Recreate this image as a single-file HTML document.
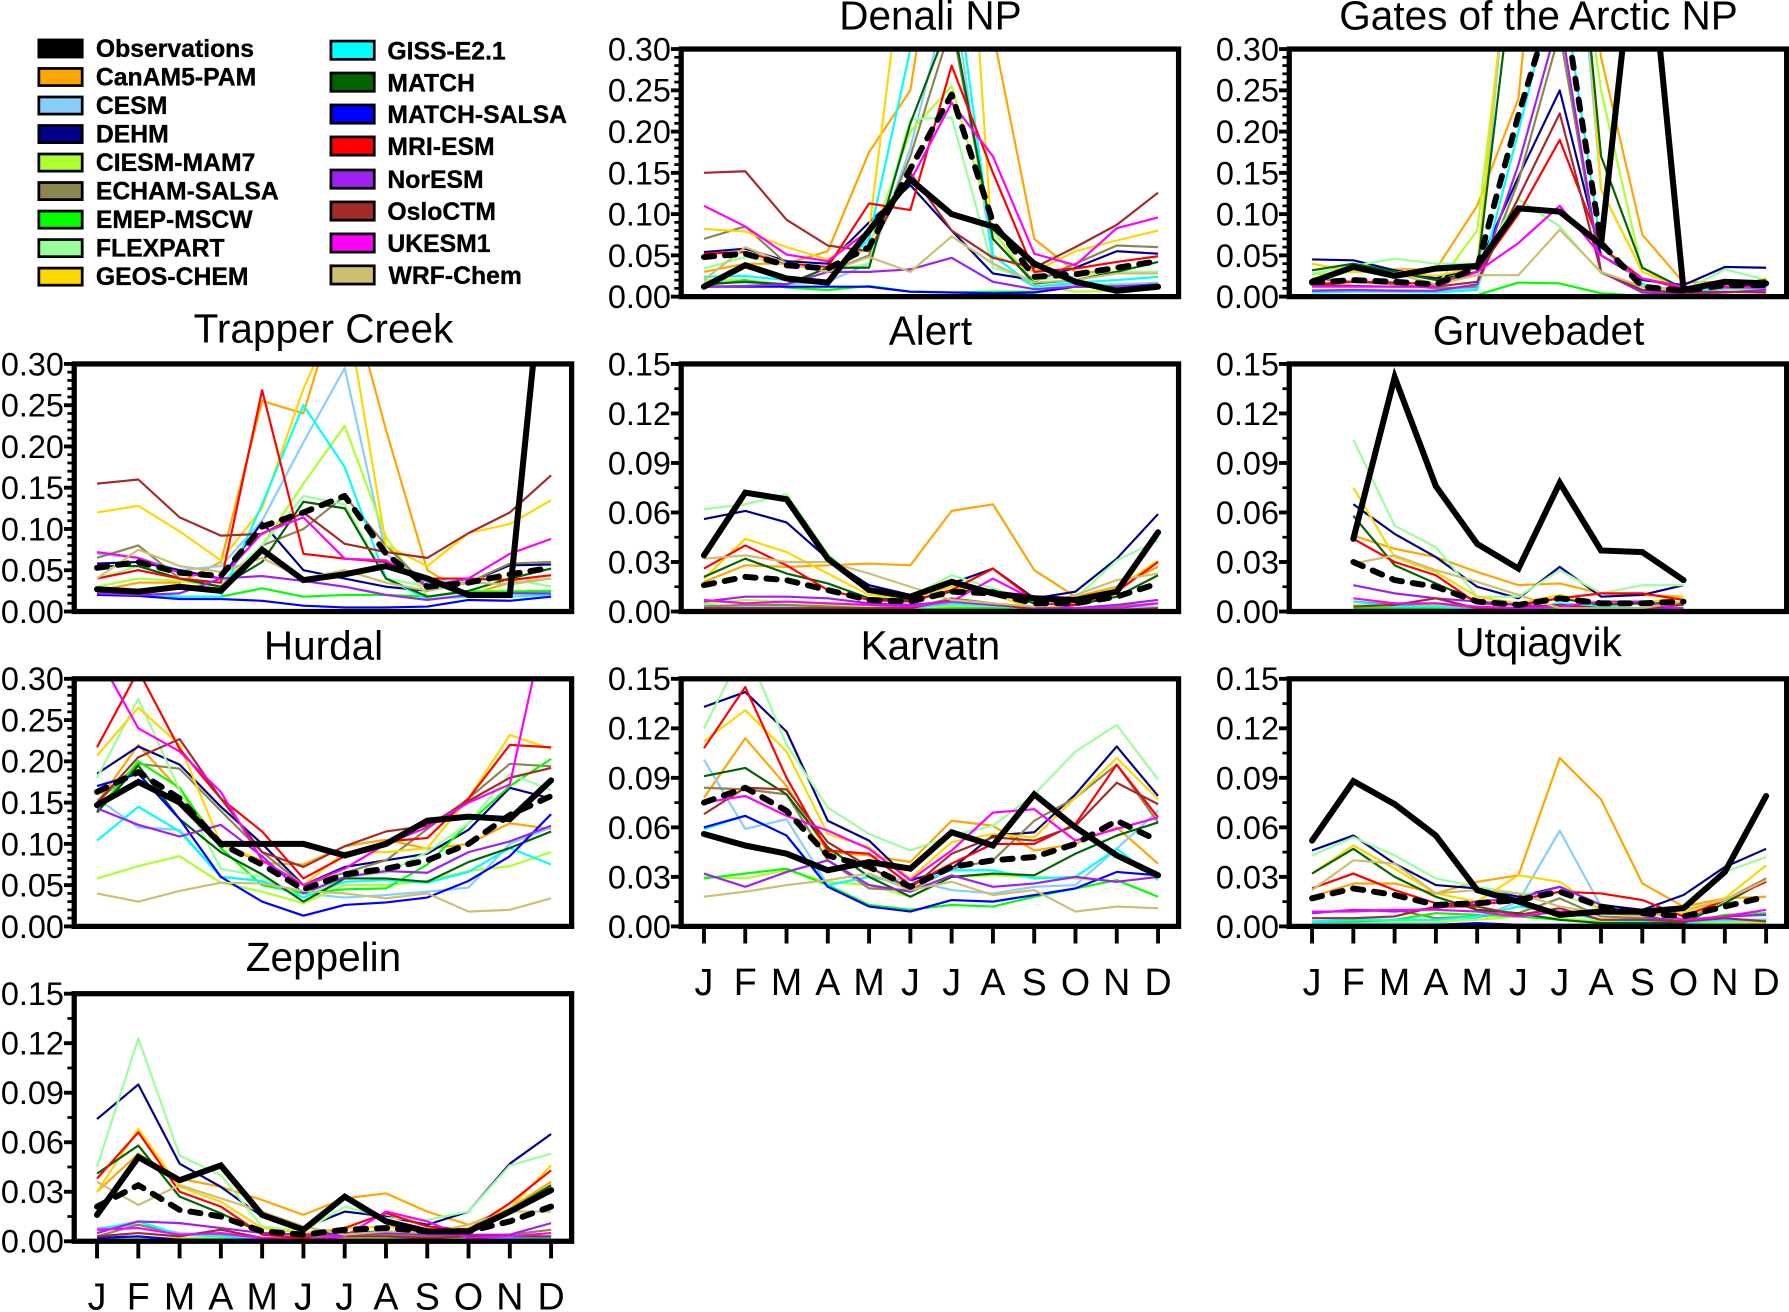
<!DOCTYPE html>
<html lang="en">
<head>
<meta charset="utf-8">
<title>Monthly concentration panels</title>
<style>
html,body{margin:0;padding:0;background:#fff;}
svg{display:block;font-family:"Liberation Sans",sans-serif;}
.title{font-size:35.5px;text-anchor:middle;fill:#000;}
.tick-label{font-size:28.4px;text-anchor:end;fill:#000;}
.month-label{font-size:33px;text-anchor:middle;fill:#000;}
.legend-label{font-size:21.7px;font-weight:bold;fill:#000;stroke:#000;stroke-width:.3;}
.swatch{stroke:#000;stroke-width:2.4;}
.series{fill:none;stroke-width:1.9;stroke-linejoin:round;}
.s0{stroke:#000;stroke-width:5.3;stroke-linecap:round;stroke-linejoin:miter;}
.s1{stroke:#FFA500;}.s2{stroke:#87CEFF;}.s3{stroke:#00008B;}.s4{stroke:#ADFF2F;}
.s5{stroke:#8B864E;}.s6{stroke:#00FF00;}.s7{stroke:#9AFF9A;}.s8{stroke:#FFD700;}
.s9{stroke:#00FFFF;}.s10{stroke:#006400;}.s11{stroke:#0000FF;}.s12{stroke:#FF0000;}
.s13{stroke:#A020F0;}.s14{stroke:#A52A2A;}.s15{stroke:#FF00FF;}.s16{stroke:#CDBE70;}
.s17{stroke:#000;stroke-width:5.2;stroke-dasharray:9 9.5;stroke-linecap:round;}
.box{fill:none;stroke:#000;stroke-width:4.6;}
.major{stroke:#000;stroke-width:3.4;}
.minor{stroke:#000;stroke-width:2.4;}
</style>
</head>
<body>
<svg id="chart" xmlns="http://www.w3.org/2000/svg" width="1789" height="1312" viewBox="0 0 1568 1150">
<g>
<g><rect class="swatch" x="34" y="35" width="38" height="15" fill="#000"/><text class="legend-label" x="84" y="50">Observations</text></g>
<g><rect class="swatch" x="34" y="60" width="38" height="15" fill="#FFA500"/><text class="legend-label" x="84" y="75">CanAM5-PAM</text></g>
<g><rect class="swatch" x="34" y="85" width="38" height="15" fill="#87CEFF"/><text class="legend-label" x="84" y="100">CESM</text></g>
<g><rect class="swatch" x="34" y="110" width="38" height="15" fill="#00008B"/><text class="legend-label" x="84" y="125">DEHM</text></g>
<g><rect class="swatch" x="34" y="135" width="38" height="15" fill="#ADFF2F"/><text class="legend-label" x="84" y="150">CIESM-MAM7</text></g>
<g><rect class="swatch" x="34" y="160" width="38" height="15" fill="#8B864E"/><text class="legend-label" x="84" y="175">ECHAM-SALSA</text></g>
<g><rect class="swatch" x="34" y="185" width="38" height="15" fill="#00FF00"/><text class="legend-label" x="84" y="200">EMEP-MSCW</text></g>
<g><rect class="swatch" x="34" y="210" width="38" height="15" fill="#9AFF9A"/><text class="legend-label" x="84" y="225">FLEXPART</text></g>
<g><rect class="swatch" x="34" y="235" width="38" height="15" fill="#FFD700"/><text class="legend-label" x="84" y="250">GEOS-CHEM</text></g>
<g><rect class="swatch" x="290" y="36" width="38" height="16" fill="#00FFFF"/><text class="legend-label" x="339.5" y="52">GISS-E2.1</text></g>
<g><rect class="swatch" x="290" y="64" width="38" height="16" fill="#006400"/><text class="legend-label" x="339.5" y="80">MATCH</text></g>
<g><rect class="swatch" x="290" y="92" width="38" height="16" fill="#0000FF"/><text class="legend-label" x="339.5" y="108">MATCH-SALSA</text></g>
<g><rect class="swatch" x="290" y="120" width="38" height="16" fill="#FF0000"/><text class="legend-label" x="339.5" y="136">MRI-ESM</text></g>
<g><rect class="swatch" x="290" y="149" width="38" height="16" fill="#A020F0"/><text class="legend-label" x="339.5" y="165">NorESM</text></g>
<g><rect class="swatch" x="290" y="177" width="38" height="16" fill="#A52A2A"/><text class="legend-label" x="339.5" y="193">OsloCTM</text></g>
<g><rect class="swatch" x="290" y="205" width="38" height="16" fill="#FF00FF"/><text class="legend-label" x="339.5" y="221">UKESM1</text></g>
<g><rect class="swatch" x="290" y="233" width="38" height="16" fill="#CDBE70"/><text class="legend-label" x="340.5" y="249">WRF-Chem</text></g>
</g>
</svg>
<script>
const months = ["J","F","M","A","M","J","J","A","S","O","N","D"];
const ticksHigh = [0, 0.05, 0.10, 0.15, 0.20, 0.25, 0.30];
const ticksLow = [0, 0.03, 0.06, 0.09, 0.12, 0.15];
const minorHigh = [0.01,0.02,0.03,0.04,0.06,0.07,0.08,0.09,0.11,0.12,0.13,0.14,0.16,0.17,0.18,0.19,0.21,0.22,0.23,0.24,0.26,0.27,0.28,0.29];
const minorLow = [0.015,0.045,0.075,0.105,0.135];
/* Row order: Observations, CanAM5-PAM, CESM, DEHM, CIESM-MAM7, ECHAM-SALSA, EMEP-MSCW, FLEXPART,
   GEOS-CHEM, GISS-E2.1, MATCH, MATCH-SALSA, MRI-ESM, NorESM, OsloCTM, UKESM1, WRF-Chem, Ensemble mean */
const denaliValues = [
[.012,.038,.022,.017,.08,.142,.1,.085,.04,.018,.007,.012],
[.03,.04,.04,.055,.175,.25,.57,.32,.07,.03,.03,.03],
[.018,.017,.015,.018,.04,.18,.38,.04,.012,.015,.015,.017],
[.054,.058,.043,.04,.09,.135,.08,.028,.02,.035,.055,.052],
[.02,.02,.015,.03,.06,.2,.255,.08,.015,.006,.007,.01],
[.07,.085,.04,.03,.05,.17,.33,.07,.018,.04,.062,.06],
[.013,.02,.011,.008,.013,.006,.005,.006,.006,.012,.013,.013],
[.034,.048,.04,.03,.04,.215,.217,.035,.02,.025,.03,.03],
[.082,.079,.06,.045,.08,.48,.8,.05,.03,.055,.068,.08],
[.024,.025,.02,.018,.07,.3,.42,.05,.012,.017,.02,.024],
[.015,.018,.015,.035,.035,.21,.34,.07,.016,.02,.03,.042],
[.012,.012,.012,.012,.012,.006,.005,.004,.005,.012,.012,.015],
[.052,.054,.04,.036,.113,.105,.28,.15,.03,.034,.042,.049],
[.012,.013,.015,.03,.03,.033,.047,.018,.009,.012,.012,.015],
[.15,.152,.093,.062,.055,.15,.08,.047,.035,.06,.087,.126],
[.11,.085,.051,.043,.08,.14,.235,.17,.052,.038,.083,.096],
[.02,.06,.04,.03,.048,.03,.073,.04,.017,.02,.028,.028],
[.048,.052,.038,.034,.06,.155,.245,.09,.024,.027,.035,.043]];
const gatesValues = [
[.018,.036,.025,.034,.037,.107,.103,.063,.52,.008,.018,.016],
[.04,.03,.033,.033,.11,.24,.75,.29,.075,.017,.018,.018],
[.008,.008,.008,.007,.01,.55,.7,.13,.03,.01,.012,.012],
[.045,.044,.032,.022,.035,.145,.25,.05,.02,.014,.036,.035],
[.027,.03,.03,.012,.08,.5,.6,.25,.03,.01,.01,.008],
[.022,.018,.015,.01,.012,.14,.32,.03,.008,.005,.01,.012],
[.002,.002,.002,.002,.002,.017,.016,.004,.001,.001,.001,.001],
[.028,.037,.046,.04,.04,.118,.085,.028,.012,.007,.033,.02],
[.04,.03,.03,.025,.035,.55,.8,.13,.03,.01,.01,.022],
[.005,.006,.006,.005,.008,.2,.4,.06,.015,.006,.01,.01],
[.032,.04,.03,.02,.03,.45,.7,.17,.035,.01,.015,.02],
[.002,.002,.002,.002,.002,.001,.001,.001,.001,.001,.001,.001],
[.015,.018,.017,.015,.03,.1,.19,.06,.022,.01,.012,.012],
[.007,.008,.007,.007,.015,.16,.34,.03,.005,.003,.005,.008],
[.015,.013,.012,.012,.018,.12,.222,.03,.008,.005,.006,.005],
[.012,.012,.012,.012,.03,.065,.11,.05,.022,.012,.011,.011],
[.02,.035,.028,.015,.026,.026,.081,.03,.012,.008,.016,.017],
[.017,.02,.018,.015,.035,.22,.385,.065,.012,.007,.014,.014]];
const trapperValues = [
[.027,.024,.03,.025,.075,.038,.045,.055,.04,.02,.02,.517],
[.025,.035,.035,.06,.255,.24,.405,.22,.05,.02,.035,.04],
[.07,.065,.05,.055,.11,.205,.295,.07,.035,.038,.04,.03],
[.058,.06,.05,.04,.108,.05,.04,.03,.025,.035,.056,.057],
[.03,.04,.037,.03,.08,.155,.225,.09,.018,.025,.025,.025],
[.065,.08,.04,.03,.08,.10,.14,.08,.03,.035,.058,.06],
[.022,.022,.018,.018,.028,.018,.02,.02,.018,.024,.024,.025],
[.04,.055,.04,.035,.08,.14,.13,.04,.03,.04,.04,.03],
[.12,.128,.097,.062,.125,.27,.38,.08,.055,.095,.106,.135],
[.02,.02,.018,.018,.13,.25,.175,.04,.015,.018,.018,.02],
[.055,.055,.04,.03,.06,.133,.125,.04,.018,.025,.04,.052],
[.02,.019,.015,.015,.013,.007,.005,.005,.006,.014,.013,.018],
[.04,.05,.04,.035,.268,.07,.064,.06,.04,.04,.038,.044],
[.022,.02,.022,.04,.043,.037,.03,.02,.014,.02,.022,.022],
[.155,.16,.114,.092,.094,.12,.082,.072,.065,.095,.12,.165],
[.072,.065,.047,.04,.095,.114,.064,.062,.03,.04,.07,.088],
[.04,.075,.055,.048,.065,.04,.05,.035,.025,.035,.033,.04],
[.053,.06,.047,.043,.103,.12,.14,.07,.03,.035,.045,.053]];
const alertValues = [
[.034,.072,.068,.032,.013,.009,.018,.011,.008,.007,.012,.048],
[.018,.028,.027,.028,.029,.028,.061,.065,.025,.009,.015,.027],
[.004,.003,.003,.002,.002,.002,.004,.003,.001,.001,.002,.003],
[.056,.061,.054,.032,.016,.01,.017,.026,.008,.012,.032,.059],
[.005,.007,.006,.004,.003,.002,.003,.002,.002,.002,.003,.005],
[.003,.004,.004,.003,.002,.002,.008,.005,.002,.002,.003,.005],
[.001,.001,.001,.001,.001,.001,.002,.002,.001,.001,.001,.001],
[.062,.065,.071,.035,.013,.009,.022,.014,.006,.008,.031,.043],
[.02,.044,.036,.023,.01,.008,.015,.01,.002,.004,.014,.031],
[.002,.002,.002,.002,.002,.002,.005,.004,.001,.001,.001,.002],
[.021,.032,.023,.017,.008,.007,.012,.013,.005,.004,.009,.022],
[.001,.001,.001,.001,.001,.001,.001,.001,.001,.001,.001,.001],
[.026,.04,.028,.013,.007,.006,.013,.026,.007,.004,.012,.03],
[.006,.009,.009,.008,.005,.004,.006,.004,.002,.002,.004,.007],
[.002,.002,.002,.002,.002,.002,.007,.005,.001,.001,.001,.002],
[.007,.005,.006,.005,.004,.003,.006,.02,.007,.002,.002,.005],
[.032,.034,.03,.03,.023,.015,.007,.005,.003,.01,.019,.023],
[.016,.021,.019,.013,.007,.006,.012,.011,.005,.005,.009,.017]];
const gruvebadetValues = [
[null,.044,.142,.076,.041,.026,.078,.037,.036,.019,null,null],
[null,.046,.038,.033,.024,.016,.017,.011,.01,.009,null,null],
[null,.004,.002,.002,.001,.001,.003,.001,.001,.001,null,null],
[null,.065,.047,.033,.015,.008,.027,.009,.01,.016,null,null],
[null,.004,.003,.004,.002,.001,.003,.002,.002,.002,null,null],
[null,.006,.004,.005,.002,.001,.004,.002,.002,.006,null,null],
[null,.002,.002,.002,.001,.001,.002,.002,.002,.002,null,null],
[null,.104,.052,.039,.009,.009,.025,.011,.016,.016,null,null],
[null,.075,.033,.024,.009,.005,.01,.005,.005,.009,null,null],
[null,.006,.003,.003,.001,.001,.005,.003,.002,.002,null,null],
[null,.058,.028,.017,.006,.004,.008,.004,.005,.005,null,null],
[null,.001,.001,.001,.001,.001,.001,.001,.001,.001,null,null],
[null,.044,.03,.022,.005,.004,.008,.011,.011,.007,null,null],
[null,.016,.011,.008,.006,.004,.003,.002,.002,.002,null,null],
[null,.003,.004,.008,.002,.002,.004,.002,.002,.004,null,null],
[null,.008,.005,.005,.003,.002,.003,.006,.006,.001,null,null],
[null,.029,.034,.025,.018,.01,.002,.002,.002,.006,null,null],
[null,.03,.019,.015,.006,.004,.008,.005,.005,.006,null,null]];
const hurdalValues = [
[.147,.175,.15,.1,.1,.1,.086,.1,.128,.133,.13,.177],
[.15,.22,.165,.1,.077,.075,.097,.105,.094,.1,.125,.118],
[.155,.12,.117,.06,.055,.04,.035,.038,.042,.047,.1,.12],
[.185,.218,.196,.145,.1,.05,.072,.08,.088,.117,.168,.155],
[.058,.073,.085,.053,.042,.028,.05,.05,.055,.067,.073,.09],
[.15,.197,.191,.14,.09,.05,.065,.08,.118,.155,.197,.194],
[.14,.2,.168,.095,.05,.04,.045,.046,.075,.125,.17,.203],
[.18,.276,.165,.07,.06,.035,.06,.065,.09,.125,.185,.165],
[.207,.265,.22,.1,.08,.05,.09,.09,.095,.155,.232,.215],
[.104,.145,.115,.06,.055,.035,.054,.056,.053,.066,.095,.075],
[.138,.195,.13,.09,.063,.03,.058,.058,.054,.078,.095,.115],
[.17,.185,.13,.06,.03,.013,.026,.029,.035,.055,.085,.136],
[.217,.31,.215,.155,.115,.058,.085,.103,.107,.155,.22,.217],
[.143,.123,.109,.123,.085,.04,.06,.067,.065,.09,.103,.122],
[.15,.205,.227,.155,.09,.072,.097,.115,.122,.152,.18,.192],
[.33,.24,.212,.163,.08,.05,.07,.1,.12,.15,.172,.4],
[.04,.03,.043,.053,.052,.043,.04,.034,.04,.018,.02,.034],
[.163,.187,.155,.1,.075,.045,.063,.07,.08,.1,.135,.158]];
const karvatnValues = [
[.056,.049,.044,.034,.039,.035,.057,.049,.08,.06,.043,.031],
[.078,.114,.085,.045,.043,.039,.064,.061,.046,.05,.06,.038],
[.101,.059,.065,.025,.03,.028,.022,.02,.024,.025,.047,.07],
[.133,.142,.118,.064,.052,.028,.035,.055,.057,.08,.109,.079],
[.03,.029,.034,.027,.025,.018,.03,.031,.03,.029,.027,.03],
[.084,.083,.08,.04,.023,.022,.035,.04,.064,.078,.098,.063],
[.029,.032,.035,.025,.013,.01,.013,.012,.018,.023,.028,.018],
[.12,.17,.11,.072,.056,.046,.055,.061,.08,.106,.122,.089],
[.112,.131,.106,.056,.048,.029,.051,.056,.054,.078,.102,.077],
[.059,.067,.055,.025,.03,.025,.034,.034,.029,.03,.047,.028],
[.091,.096,.08,.048,.03,.018,.03,.032,.031,.044,.055,.063],
[.06,.067,.055,.024,.012,.009,.016,.015,.019,.023,.033,.031],
[.108,.145,.09,.046,.044,.025,.038,.05,.05,.062,.098,.066],
[.032,.024,.033,.04,.025,.021,.031,.024,.026,.03,.027,.03],
[.068,.084,.083,.051,.036,.023,.044,.054,.052,.061,.087,.074],
[.075,.079,.067,.058,.047,.028,.046,.069,.071,.052,.059,.066],
[.018,.021,.025,.028,.032,.022,.027,.019,.022,.009,.012,.011],
[.075,.084,.07,.043,.036,.024,.036,.04,.042,.05,.064,.052]];
const utqiagvikValues = [
[.052,.088,.074,.055,.022,.015,.007,.009,.009,.011,.033,.079],
[.018,.026,.026,.02,.027,.031,.102,.077,.026,.012,.017,.018],
[.002,.002,.002,.002,.005,.015,.058,.012,.005,.002,.003,.003],
[.046,.055,.038,.025,.023,.018,.024,.013,.01,.019,.036,.047],
[.003,.003,.003,.003,.004,.006,.005,.003,.002,.002,.002,.002],
[.008,.01,.01,.005,.006,.008,.017,.006,.005,.003,.016,.029],
[.003,.003,.004,.008,.007,.006,.004,.002,.002,.002,.007,.008],
[.043,.054,.043,.029,.024,.02,.02,.01,.01,.012,.033,.042],
[.032,.049,.035,.02,.015,.031,.027,.01,.006,.008,.017,.037],
[.003,.004,.004,.004,.006,.012,.009,.004,.003,.002,.004,.004],
[.032,.047,.03,.018,.01,.008,.004,.002,.002,.002,.014,.028],
[.001,.001,.001,.001,.002,.001,.001,.001,.001,.001,.001,.001],
[.023,.032,.022,.014,.013,.016,.021,.02,.016,.006,.016,.027],
[.008,.01,.009,.011,.015,.017,.024,.013,.006,.003,.006,.007],
[.005,.005,.006,.012,.012,.007,.011,.004,.004,.003,.005,.003],
[.009,.009,.01,.01,.009,.006,.009,.008,.01,.004,.006,.01],
[.022,.04,.038,.02,.022,.02,.012,.008,.006,.01,.016,.028],
[.017,.023,.019,.013,.014,.016,.021,.012,.008,.006,.012,.018]];
const zeppelinValues = [
[.016,.051,.037,.046,.016,.007,.027,.012,.006,.006,.018,.031],
[.03,.053,.038,.033,.025,.016,.026,.029,.018,.01,.02,.036],
[.008,.01,.005,.004,.002,.002,.005,.005,.003,.002,.002,.003],
[.074,.095,.047,.033,.015,.008,.018,.015,.01,.018,.047,.065],
[.002,.002,.002,.002,.001,.001,.002,.002,.002,.001,.002,.002],
[.003,.01,.004,.004,.002,.002,.004,.004,.003,.003,.004,.007],
[.001,.001,.001,.001,.001,.001,.001,.001,.001,.001,.001,.001],
[.045,.123,.052,.04,.009,.006,.021,.014,.013,.018,.046,.053],
[.03,.068,.033,.024,.008,.005,.008,.009,.005,.008,.02,.046],
[.007,.012,.004,.003,.001,.001,.003,.003,.001,.001,.002,.002],
[.041,.058,.027,.017,.005,.004,.005,.006,.005,.005,.019,.034],
[.002,.003,.001,.001,.001,.001,.001,.001,.001,.001,.001,.001],
[.038,.066,.03,.021,.004,.002,.008,.017,.009,.007,.023,.043],
[.005,.012,.011,.008,.005,.004,.004,.005,.004,.004,.004,.011],
[.003,.005,.003,.007,.002,.001,.003,.003,.002,.003,.003,.003],
[.007,.008,.004,.005,.002,.001,.003,.018,.012,.002,.003,.005],
[.036,.022,.034,.026,.018,.009,.004,.006,.005,.01,.018,.018],
[.021,.034,.019,.015,.006,.004,.007,.008,.006,.006,.012,.021]];

const NS = "http://www.w3.org/2000/svg";
const root = document.getElementById("chart");
function make(tag, attrs, parent, text) {
  const el = document.createElementNS(NS, tag);
  for (const k in attrs) el.setAttribute(k, attrs[k]);
  if (text !== undefined) el.textContent = text;
  parent.appendChild(el);
  return el;
}
function slug(s) { return s.toLowerCase().replace(/[^a-z0-9]+/g, "-"); }
let clipCount = 0;
function drawPanel(title, values, yMax, ticks, minors, digits, left, top, titleY, showMonths, monthY) {
  const right = left + 436, bottom = top + 217;
  const xFirst = left + 20, xLast = right - 18;
  const xScale = i => xFirst + (xLast - xFirst) * i / 11;
  const yScale = v => bottom - (bottom - top) * v / yMax;
  const g = make("g", {}, root);
  
  
  const t = make("text", {class: "title", x: (left + right) / 2 + 0.5, y: titleY}, g, title);
  
  
  const clipId = "clip" + (clipCount++);
  const cp = make("clipPath", {id: clipId}, g);
  make("rect", {x: left, y: top - 2, width: right - left, height: bottom - top + 2}, cp);
  const lines = make("g", {"clip-path": "url(#" + clipId + ")"}, g);
  
  
  const order = [];
  for (let s = 1; s <= 16; s++) order.push(s);
  order.push(0, 17);
  order.forEach(s => {
    const pts = [];
    values[s].forEach((v, i) => { if (v !== null) pts.push(xScale(i).toFixed(1) + "," + yScale(v).toFixed(1)); });
    const line = make("polyline", {class: "series s" + s, points: pts.join(" ")}, lines);
    
    
  });
  const box = make("rect", {class: "box", x: left, y: top, width: right - left, height: bottom - top}, g);
  
  
  ticks.forEach(v => {
    const tick = make("line", {class: "major", x1: left - 9, x2: left, y1: yScale(v), y2: yScale(v)}, g);
    
    
    const lab = make("text", {class: "tick-label", x: left - 9, y: yScale(v) + 10}, g, v.toFixed(digits));
    
    
  });
  minors.forEach(v => {
    const tick = make("line", {class: "minor", x1: left - 6, x2: left, y1: yScale(v), y2: yScale(v)}, g);
    
    
  });
  if (showMonths) {
    months.forEach((m, i) => {
      const tick = make("line", {class: "major", x1: xScale(i), x2: xScale(i), y1: bottom, y2: bottom + 15}, g);
      
      
      const lab = make("text", {class: "month-label", x: xScale(i), y: monthY}, g, m);
      
      
    });
  }
}
drawPanel("Denali NP", denaliValues, 0.30, ticksHigh, minorHigh, 2, 597, 43, 26, false);
drawPanel("Gates of the Arctic NP", gatesValues, 0.30, ticksHigh, minorHigh, 2, 1130, 43, 26, false);
drawPanel("Trapper Creek", trapperValues, 0.30, ticksHigh, minorHigh, 2, 65, 319, 300, false);
drawPanel("Alert", alertValues, 0.15, ticksLow, minorLow, 2, 597, 319, 302, false);
drawPanel("Gruvebadet", gruvebadetValues, 0.15, ticksLow, minorLow, 2, 1130, 319, 302, false);
drawPanel("Hurdal", hurdalValues, 0.30, ticksHigh, minorHigh, 2, 65, 595, 578, false);
drawPanel("Karvatn", karvatnValues, 0.15, ticksLow, minorLow, 2, 597, 595, 578, true, 872);
drawPanel("Utqiagvik", utqiagvikValues, 0.15, ticksLow, minorLow, 2, 1130, 595, 575, true, 872);
drawPanel("Zeppelin", zeppelinValues, 0.15, ticksLow, minorLow, 2, 65, 871, 851, true, 1148);
</script>
</body>
</html>
